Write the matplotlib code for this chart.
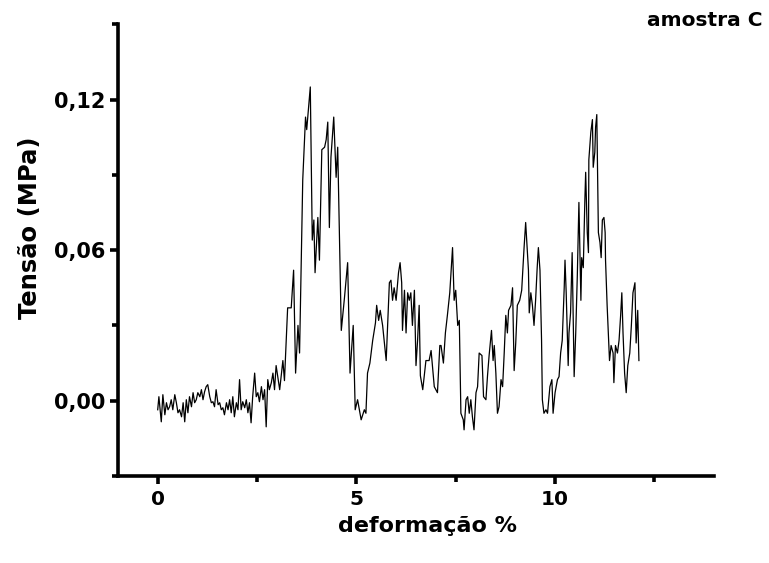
import matplotlib
matplotlib.use('Agg')
import matplotlib.pyplot as plt
from matplotlib.ticker import MultipleLocator, FuncFormatter

plt.rcParams['font.family'] = ['DejaVu Sans']
plt.rcParams['font.weight'] = 'bold'

# deformação (%) e tensão (MPa)
deformacao = [
    0.00, 0.03, 0.07, 0.09, 0.13, 0.18, 0.22, 0.26, 0.30, 0.34, 0.38, 0.43, 0.47, 0.51, 0.55,
    0.60, 0.64, 0.68, 0.72, 0.76, 0.80, 0.85, 0.89, 0.93, 0.97, 1.01, 1.06, 1.10, 1.14, 1.18,
    1.22, 1.26, 1.31, 1.35, 1.39, 1.43, 1.47, 1.52, 1.56, 1.60, 1.64, 1.68, 1.73, 1.77, 1.81,
    1.85, 1.89, 1.93, 1.98, 2.02, 2.06, 2.10, 2.14, 2.19, 2.23, 2.27, 2.31, 2.35, 2.39, 2.44,
    2.48, 2.52, 2.56, 2.61, 2.65, 2.69, 2.73, 2.77, 2.81, 2.86, 2.90, 2.94, 2.98,
    3.07, 3.15, 3.19, 3.27, 3.36, 3.42, 3.47, 3.53, 3.57, 3.65, 3.72, 3.75, 3.84, 3.89, 3.93,
    3.96, 4.03, 4.07, 4.13, 4.20, 4.24, 4.28, 4.32, 4.36, 4.43, 4.49, 4.53, 4.62, 4.70, 4.78,
    4.84, 4.92, 4.97, 5.03,
    5.12, 5.20, 5.24, 5.28, 5.34, 5.41, 5.48, 5.51, 5.56, 5.60, 5.66, 5.75, 5.83, 5.87, 5.91,
    5.95, 6.00, 6.06, 6.10, 6.14, 6.16, 6.21, 6.25, 6.29, 6.33, 6.37, 6.41, 6.46, 6.50, 6.54,
    6.58, 6.61, 6.67, 6.75, 6.83, 6.88, 6.96, 7.04, 7.10,
    7.13, 7.19, 7.24, 7.29, 7.35, 7.40, 7.42, 7.46, 7.50, 7.55, 7.59, 7.63, 7.69, 7.71, 7.76,
    7.80, 7.84, 7.88, 7.92, 7.96, 8.01, 8.05, 8.09, 8.16, 8.20, 8.26, 8.30, 8.34, 8.40, 8.44,
    8.47, 8.51, 8.55, 8.59, 8.64, 8.68, 8.72, 8.76, 8.80, 8.83, 8.89, 8.93, 8.97, 9.01, 9.05,
    9.11, 9.16, 9.22, 9.26, 9.30, 9.33, 9.35, 9.39, 9.43, 9.47, 9.51, 9.55, 9.58,
    9.62, 9.66, 9.68, 9.72, 9.77, 9.81, 9.87, 9.92, 9.95, 10.00, 10.06, 10.10, 10.14, 10.18,
    10.23, 10.25, 10.28, 10.33, 10.35, 10.39, 10.43, 10.48, 10.52, 10.56, 10.60, 10.65, 10.67,
    10.71, 10.75, 10.77, 10.81, 10.84, 10.85, 10.90, 10.94, 10.96, 11.00, 11.02, 11.05, 11.09,
    11.13, 11.16, 11.19, 11.23, 11.26,
    11.27, 11.31, 11.34, 11.37, 11.41, 11.46, 11.48, 11.52, 11.57, 11.61, 11.65, 11.68, 11.71,
    11.75, 11.79, 11.83, 11.88, 11.92, 11.96, 12.01, 12.04, 12.08, 12.11,
]
tensao = [
    -0.0036, 0.0016, -0.0048, -0.0084, 0.0024, -0.0056, -0.0008, -0.0036, -0.0024, 0.0004,
    -0.0036, 0.0024, -0.0008, -0.0048, -0.0036, -0.0064, -0.0008, -0.0084, 0.0004, -0.0048,
    0.0016, -0.0024, 0.0032, -0.0008, 0.0004, 0.0032, 0.0016, 0.0044, 0.0004, 0.0036,
    0.0056, 0.0064, 0.0016, -0.0008, -0.0004, -0.0024, 0.0044, -0.0016, -0.0008, -0.0036,
    -0.0028, -0.0056, -0.0008, -0.0036, 0.0004, -0.0048, 0.0016, -0.0064, -0.0008, -0.0036,
    0.0084, -0.0036, -0.0004, -0.0028, 0.0004, -0.0048, -0.0008, -0.0088, 0.0016, 0.011,
    0.0016, 0.0032, -0.0004, 0.0056, 0.0004, 0.0044, -0.0104, 0.0084, 0.0044, 0.0072,
    0.011, 0.0044, 0.014,
    0.0044, 0.016, 0.008, 0.037, 0.037, 0.052, 0.011, 0.030, 0.019, 0.088, 0.113, 0.108,
    0.125, 0.064, 0.072, 0.051, 0.073, 0.056, 0.100, 0.101, 0.104, 0.111, 0.069, 0.097,
    0.113, 0.089, 0.101, 0.028, 0.041, 0.055, 0.011, 0.030, -0.0036, 0.0004,
    -0.0076, -0.0036, -0.005, 0.011, 0.015, 0.024, 0.031, 0.038, 0.032, 0.036, 0.030, 0.016,
    0.047, 0.048, 0.040, 0.045, 0.040, 0.051, 0.055, 0.047, 0.028, 0.044, 0.027, 0.043,
    0.040, 0.043, 0.030, 0.044, 0.014, 0.024, 0.038, 0.010, 0.0044, 0.016, 0.016, 0.020,
    0.0056, 0.0032, 0.022,
    0.022, 0.015, 0.027, 0.034, 0.043, 0.056, 0.061, 0.040, 0.044, 0.030, 0.032, -0.005,
    -0.0076, -0.0116, 0.0004, 0.0016, -0.005, 0.0004, -0.0064, -0.0116, 0.0032, 0.0056,
    0.019, 0.018, 0.0016, 0.0004, 0.010, 0.018, 0.028, 0.016, 0.022, 0.011, -0.005, -0.0024,
    0.0084, 0.0056, 0.019, 0.034, 0.027, 0.036, 0.038, 0.045, 0.012, 0.023, 0.038, 0.040,
    0.044, 0.061, 0.071, 0.060, 0.052, 0.035, 0.043, 0.038, 0.030, 0.040, 0.053, 0.061,
    0.052, 0.024, 0.0004, -0.005, -0.0036, -0.005, 0.0056, 0.0084, -0.005, 0.0032, 0.0084,
    0.0096, 0.019, 0.024, 0.045, 0.056, 0.043, 0.014, 0.027, 0.035, 0.059, 0.0096, 0.027,
    0.050, 0.079, 0.040, 0.057, 0.053, 0.080, 0.091, 0.067, 0.059, 0.096, 0.107, 0.112,
    0.093, 0.099, 0.109, 0.114, 0.067, 0.063, 0.057, 0.072, 0.073, 0.067,
    0.056, 0.038, 0.027, 0.016, 0.022, 0.019, 0.0072, 0.022, 0.019, 0.024, 0.034, 0.043,
    0.027, 0.011, 0.0032, 0.014, 0.019, 0.030, 0.043, 0.047, 0.023, 0.036, 0.016,
]

fig = plt.figure(figsize=(7.69, 5.63), dpi=100)
ax = fig.add_axes([0.1534, 0.1545, 0.7751, 0.8025])

ax.plot(deformacao, tensao, color='black', linewidth=0.9)

ax.set_xlim(-1, 14)
ax.set_ylim(-0.03, 0.15)

ax.set_xticks([0, 5, 10])
ax.set_yticks([0.0, 0.06, 0.12])
ax.xaxis.set_minor_locator(MultipleLocator(2.5))
ax.yaxis.set_minor_locator(MultipleLocator(0.03))
ax.yaxis.set_major_formatter(FuncFormatter(lambda v, p: f'{v:.2f}'.replace('.', ',').replace('-0,00', '0,00')))

for s in ['top', 'right']:
    ax.spines[s].set_visible(False)
for s in ['left', 'bottom']:
    ax.spines[s].set_linewidth(2.6)

ax.tick_params(which='major', direction='out', length=6, width=2.6, labelsize=15, pad=3)
ax.tick_params(axis='x', which='major', labelsize=14.5, pad=4)
ax.tick_params(which='minor', direction='out', length=4, width=2.6)
for lbl in ax.get_xticklabels() + ax.get_yticklabels():
    lbl.set_fontweight('bold')

fig.text(427 / 769, 1 - 526 / 563, 'deformação %', ha='center', va='center',
         fontsize=16, fontweight='bold')
fig.text(30 / 769, 1 - 228 / 563, 'Tensão (MPa)', ha='center', va='center',
         rotation=90, fontsize=17.5, fontweight='bold')
fig.text(0.992, 1 - 20 / 563, 'amostra C', ha='right', va='center',
         fontsize=14.5, fontweight='bold')

plt.savefig('out.png', dpi=100)
